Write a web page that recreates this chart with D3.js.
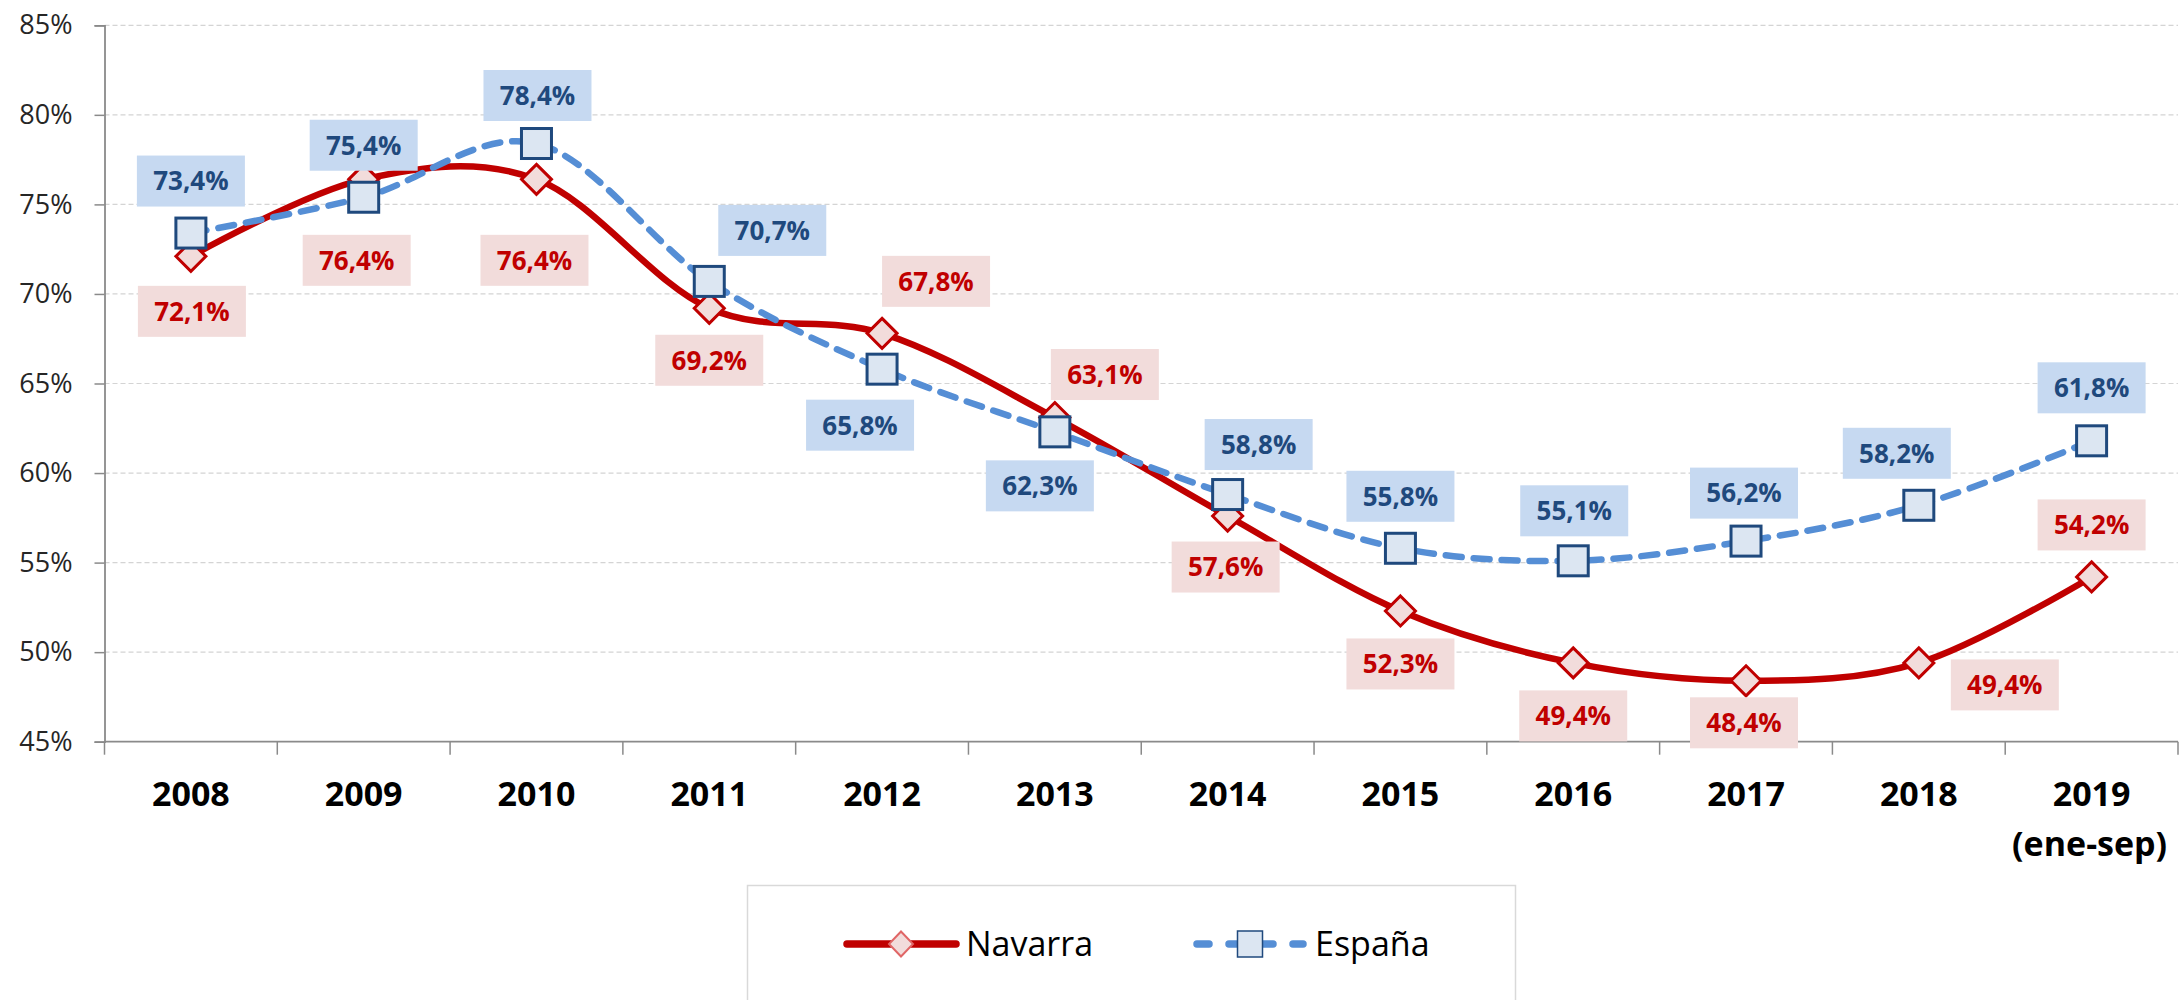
<!DOCTYPE html>
<html>
<head>
<meta charset="utf-8">
<script src="https://cdn.jsdelivr.net/npm/d3@7"></script>
<style>
  body { margin: 0; background: #fff; }
  svg { display: block; }
</style>
</head>
<body>
<div id="chart-area"></div>
<script>
// data
const years = ["2008","2009","2010","2011","2012","2013","2014","2015","2016","2017","2018","2019"];
const yearSub = ["","","","","","","","","","","","(ene-sep)"];
const navarra = [72.1, 76.4, 76.4, 69.2, 67.8, 63.1, 57.6, 52.3, 49.4, 48.4, 49.4, 54.2];
const espana  = [73.4, 75.4, 78.4, 70.7, 65.8, 62.3, 58.8, 55.8, 55.1, 56.2, 58.2, 61.8];
const yTicks  = [45, 50, 55, 60, 65, 70, 75, 80, 85];

// where each data label sits relative to its point (px)
const navLabelPos = [[1,55],[-7,81],[-2,81],[0,52],[54,-52],[50,-43],[-2,51],[0,53],[0,53],[-2,42],[86,22],[0,-52]];
const espLabelPos = [[0,-52],[0,-52],[1,-48],[63,-51],[-22,56],[-15,54],[31,-50],[0,-52],[1,-50],[-2,-48],[-22,-52],[0,-53]];

const svgWidth = 2179, svgHeight = 1000;
const plot = {left: 104.5, right: 2178, top: 25.3, bottom: 741.7};

const svg = d3.select("#chart-area")
    .append("svg")
    .attr("width", svgWidth)
    .attr("height", svgHeight);

const xScale = d3.scaleBand()
    .domain(years)
    .range([plot.left, plot.right]);
const yScale = d3.scaleLinear()
    .domain([45, 85])
    .range([plot.bottom, plot.top]);

const cx = function(i){ return xScale(years[i]) + xScale.bandwidth()/2; };

// gridlines
svg.append("g")
    .selectAll("line")
    .data(yTicks.filter(function(d){ return d > 45; }))
    .enter().append("line")
    .attr("x1", plot.left)
    .attr("x2", plot.right)
    .attr("y1", function(d){ return yScale(d); })
    .attr("y2", function(d){ return yScale(d); })
    .attr("stroke", "#d4d4d4")
    .attr("stroke-width", 1.2)
    .attr("stroke-dasharray", "5,3");

// y axis
const yAxisCall = d3.axisLeft(yScale)
    .tickValues(yTicks)
    .tickSize(10)
    .tickPadding(22)
    .tickFormat(function(d){ return d + "%"; });
const yAxis = svg.append("g")
    .attr("transform", "translate(" + plot.left + ",0)")
    .call(yAxisCall);
yAxis.select(".domain").attr("stroke", "#8a8a8a").attr("stroke-width", 1.8);
yAxis.selectAll(".tick line").attr("stroke", "#8a8a8a").attr("stroke-width", 1.5);
yAxis.selectAll(".tick text")
    .attr("font-family", "'Open Sans', sans-serif")
    .attr("font-size", "27px")
    .attr("fill", "#262626");

// x axis line and boundary ticks
svg.append("line")
    .attr("x1", plot.left).attr("x2", plot.right)
    .attr("y1", plot.bottom).attr("y2", plot.bottom)
    .attr("stroke", "#8a8a8a").attr("stroke-width", 1.8);
const bounds = years.map(function(d){ return xScale(d); }).concat([plot.right]);
svg.append("g")
    .selectAll("line")
    .data(bounds)
    .enter().append("line")
    .attr("x1", function(d){ return d; })
    .attr("x2", function(d){ return d; })
    .attr("y1", plot.bottom)
    .attr("y2", plot.bottom + 13)
    .attr("stroke", "#8a8a8a")
    .attr("stroke-width", 1.5);

// x labels
const xLab = svg.append("g")
    .attr("font-family", "'Open Sans', sans-serif")
    .attr("font-weight", "bold")
    .attr("font-size", "34px")
    .attr("fill", "#000")
    .attr("text-anchor", "middle");
years.forEach(function(yr, i){
    xLab.append("text")
        .attr("x", cx(i))
        .attr("y", 806)
        .text(yr);
    if (yearSub[i]) {
        xLab.append("text")
            .attr("x", cx(i) - 2)
            .attr("y", 856)
            .text(yearSub[i]);
    }
});

// lines
const line = d3.line()
    .x(function(d, i){ return cx(i); })
    .y(function(d){ return yScale(d); })
    .curve(d3.curveCardinal.tension(0));

svg.append("path")
    .datum(navarra)
    .attr("d", line)
    .attr("fill", "none")
    .attr("stroke", "#c00000")
    .attr("stroke-width", 6.5)
    .attr("stroke-linejoin", "round");

svg.selectAll(".nav-marker")
    .data(navarra)
    .enter().append("path")
    .attr("class", "nav-marker")
    .attr("d", "M0,-15L15,0L0,15L-15,0Z")
    .attr("transform", function(d, i){ return "translate(" + cx(i) + "," + yScale(d) + ")"; })
    .attr("fill", "#f2dcdb")
    .attr("stroke", "#c00000")
    .attr("stroke-width", 3);

svg.append("path")
    .datum(espana)
    .attr("d", line)
    .attr("fill", "none")
    .attr("stroke", "#558ed5")
    .attr("stroke-width", 6.5)
    .attr("stroke-dasharray", "16,12")
    .attr("stroke-linecap", "round");

svg.selectAll(".esp-marker")
    .data(espana)
    .enter().append("rect")
    .attr("class", "esp-marker")
    .attr("x", function(d, i){ return cx(i) - 15; })
    .attr("y", function(d){ return yScale(d) - 15; })
    .attr("width", 30)
    .attr("height", 30)
    .attr("fill", "#dce6f2")
    .attr("stroke", "#1f497d")
    .attr("stroke-width", 3);

// data labels
const fmt = function(v){ return v.toFixed(1).replace(".", ",") + "%"; };
function addLabels(values, pos, bg, fg){
    values.forEach(function(v, i){
        const lx = cx(i) + pos[i][0], ly = yScale(v) + pos[i][1];
        const g = svg.append("g").attr("transform", "translate(" + lx + "," + ly + ")");
        g.append("rect")
            .attr("x", -54).attr("y", -25.5)
            .attr("width", 108).attr("height", 51)
            .attr("fill", bg);
        g.append("text")
            .attr("text-anchor", "middle")
            .attr("dy", "0.36em")
            .attr("font-family", "'Open Sans', sans-serif")
            .attr("font-weight", "bold")
            .attr("font-size", "26px")
            .attr("fill", fg)
            .text(fmt(v));
    });
}
addLabels(navarra, navLabelPos, "#f2dcdb", "#c00000");
addLabels(espana, espLabelPos, "#c6d9f1", "#1f497d");

// legend
const legend = svg.append("g");
legend.append("rect")
    .attr("x", 747.5).attr("y", 885.5)
    .attr("width", 768).attr("height", 130)
    .attr("fill", "#fff")
    .attr("stroke", "#d9d9d9")
    .attr("stroke-width", 1.5);

legend.append("line")
    .attr("x1", 847).attr("x2", 956)
    .attr("y1", 944).attr("y2", 944)
    .attr("stroke", "#c00000").attr("stroke-width", 7.5).attr("stroke-linecap", "round");
legend.append("path")
    .attr("d", "M0,-12.5L12,0L0,12.5L-12,0Z")
    .attr("transform", "translate(901,944)")
    .attr("fill", "#f2dcdb").attr("stroke", "#e06666").attr("stroke-width", 2);
legend.append("text")
    .attr("x", 966).attr("y", 944).attr("dy", "0.36em")
    .attr("font-family", "'Open Sans', sans-serif")
    .attr("font-size", "34px")
    .attr("fill", "#000")
    .text("Navarra");

legend.append("line")
    .attr("x1", 1197).attr("x2", 1303)
    .attr("y1", 944).attr("y2", 944)
    .attr("stroke", "#558ed5").attr("stroke-width", 7.5)
    .attr("stroke-dasharray", "12,20").attr("stroke-linecap", "round");
legend.append("rect")
    .attr("x", 1237.5).attr("y", 931)
    .attr("width", 25).attr("height", 26)
    .attr("fill", "#dce6f2").attr("stroke", "#1f497d").attr("stroke-width", 1.5);
legend.append("text")
    .attr("x", 1315).attr("y", 944).attr("dy", "0.36em")
    .attr("font-family", "'Open Sans', sans-serif")
    .attr("font-size", "34px")
    .attr("fill", "#000")
    .text("España");
</script>
</body>
</html>
